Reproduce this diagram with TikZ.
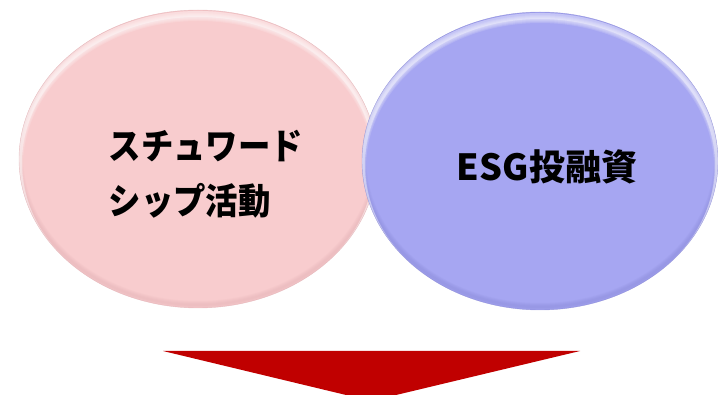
\documentclass[tikz,border=0pt]{standalone}
\usepackage{fontspec}
\newfontfamily\jp{Noto Sans CJK JP}
\newfontfamily\jpn[FakeStretch=0.9]{Noto Sans CJK JP}
\definecolor{pinkfill}{RGB}{248,204,206}
\definecolor{pinkdark}{RGB}{215,160,165}
\definecolor{bluefill}{RGB}{166,166,242}
\definecolor{bluedark}{RGB}{120,120,200}
\definecolor{arrowred}{RGB}{192,0,0}
\usetikzlibrary{shapes.geometric}
\tikzset{
  lbl/.style={align=left, inner sep=0pt, text=black}
}
\begin{document}
\begin{tikzpicture}[x=1pt,y=-1pt]
\useasboundingbox (0,0) rectangle (718,395);
% pink ellipse
\node[ellipse, inner sep=0pt, minimum width=358pt, minimum height=298pt, fill=pinkfill] (pk) at (198,159) {};
\begin{scope}
  \clip (198,159) ellipse [x radius=179, y radius=149];
  \foreach \d/\o in {2/0.08,4/0.08,6/0.08,8/0.08}{
    \draw[pinkdark, line width=\d pt, opacity=\o] (198,156) ellipse [x radius=179, y radius=149];
    \draw[white, line width=\d pt, opacity=0.15] (198,166) ellipse [x radius=179, y radius=149];
  }
  \draw[white, line width=6pt, opacity=0.35] (198,163) ellipse [x radius=179, y radius=149];
\end{scope}
\draw[pinkdark, line width=0.4pt, opacity=0.5] (pk.center) ellipse [x radius=179, y radius=149];
% blue ellipse
\node[ellipse, inner sep=0pt, minimum width=356pt, minimum height=298pt, fill=bluefill] (bl) at (540,161) {};
\begin{scope}
  \clip (540,161) ellipse [x radius=178, y radius=149];
  \foreach \d/\o in {2/0.08,4/0.08,6/0.08,8/0.08}{
    \draw[bluedark, line width=\d pt, opacity=\o] (540,158) ellipse [x radius=178, y radius=149];
    \draw[white, line width=\d pt, opacity=0.15] (540,168) ellipse [x radius=178, y radius=149];
  }
  \draw[white, line width=6pt, opacity=0.35] (540,165) ellipse [x radius=178, y radius=149];
\end{scope}
\draw[bluedark, line width=0.4pt, opacity=0.5] (bl.center) ellipse [x radius=178, y radius=149];
% labels
\node[lbl, font=\jpn\bfseries\fontsize{36}{55}\selectfont] (t1) at (206,174) {スチュワード\\シップ活動};
\node[lbl, font=\jp\bfseries\fontsize{36}{55}\selectfont] (t2) at (547,167) {ESG投融資};
% arrow
\coordinate (al) at (163,351);
\coordinate (ar) at (580,351);
\coordinate (ap) at (371,401);
\fill[arrowred] (al) -- (ar) -- (ap) -- cycle;
\end{tikzpicture}
\end{document}
